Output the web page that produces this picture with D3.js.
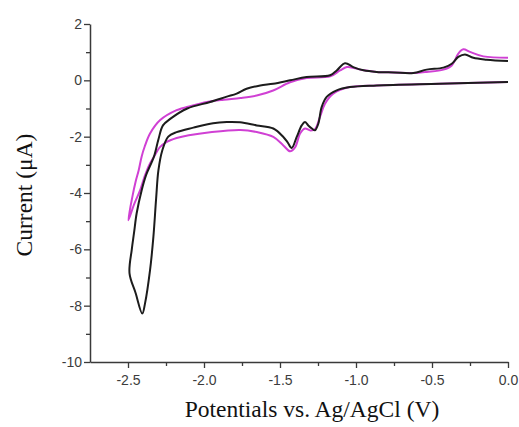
<!DOCTYPE html>
<html>
<head>
<meta charset="utf-8">
<script src="https://cdn.jsdelivr.net/npm/d3@7"></script>
<style>
  html, body { margin: 0; padding: 0; background: #fff; }
  svg { display: block; }
</style>
</head>
<body>
<svg id="chart" width="519" height="427"></svg>
<script>
// ---- data (potential V, current µA) ----
const blackForward = [
  [0.0,-0.06],[-0.45,-0.12],[-0.864,-0.18],[-1.04,-0.24],[-1.127,-0.355],[-1.193,-0.59],
  [-1.226,-0.95],[-1.248,-1.54],[-1.27,-1.775],[-1.29,-1.71],[-1.314,-1.6],[-1.336,-1.48],
  [-1.357,-1.6],[-1.39,-2.01],[-1.423,-2.40],[-1.45,-2.2],[-1.478,-2.01],[-1.544,-1.71],
  [-1.653,-1.6],[-1.763,-1.49],[-1.85,-1.48],[-1.94,-1.52],[-2.07,-1.68],[-2.18,-1.84],
  [-2.235,-2.0],[-2.275,-2.5],[-2.30,-3.2],[-2.315,-4.2],[-2.333,-5.56],[-2.355,-6.74],
  [-2.388,-7.92],[-2.406,-8.28],[-2.45,-7.55],[-2.49,-6.85]
];
const blackReverse = [
  [-2.475,-6.0],[-2.46,-5.4],[-2.443,-4.72],[-2.41,-3.9],[-2.38,-3.35],[-2.33,-2.72],[-2.30,-2.1],
  [-2.27,-1.6],[-2.22,-1.36],[-2.11,-1.0],[-1.96,-0.77],[-1.85,-0.58],[-1.785,-0.47],
  [-1.72,-0.30],[-1.63,-0.18],[-1.545,-0.12],[-1.434,0.0],[-1.325,0.12],[-1.17,0.18],
  [-1.127,0.35],[-1.072,0.61],[-1.018,0.47],[-0.95,0.355],[-0.864,0.30],[-0.75,0.28],
  [-0.623,0.26],[-0.535,0.38],[-0.425,0.45],[-0.37,0.59],[-0.327,0.83],[-0.283,0.92],
  [-0.228,0.80],[-0.14,0.735],[0.0,0.685]
];
const magentaForward = [
  [0.0,-0.06],[-0.45,-0.12],[-0.864,-0.18],[-1.04,-0.24],[-1.15,-0.47],[-1.204,-0.83],
  [-1.237,-1.30],[-1.27,-1.74],[-1.30,-1.78],[-1.336,-1.71],[-1.368,-1.89],[-1.40,-2.37],
  [-1.434,-2.52],[-1.478,-2.31],[-1.544,-2.01],[-1.653,-1.835],[-1.76,-1.76],[-1.96,-1.84],
  [-2.1,-1.95],[-2.18,-2.05],[-2.25,-2.2],[-2.29,-2.37],[-2.33,-2.72],[-2.36,-3.0],
  [-2.39,-3.4],[-2.42,-3.9],[-2.46,-4.4],[-2.498,-4.97]
];
const magentaReverse = [
  [-2.47,-4.1],[-2.45,-3.6],[-2.43,-3.2],[-2.41,-2.7],[-2.39,-2.35],[-2.355,-1.89],
  [-2.29,-1.42],[-2.18,-1.06],[-2.08,-0.90],[-1.98,-0.77],[-1.87,-0.69],[-1.76,-0.63],
  [-1.653,-0.54],[-1.545,-0.36],[-1.434,-0.07],[-1.325,0.08],[-1.17,0.14],[-1.105,0.35],
  [-1.06,0.47],[-1.02,0.45],[-0.95,0.355],[-0.864,0.30],[-0.75,0.28],[-0.623,0.26],
  [-0.535,0.30],[-0.425,0.38],[-0.37,0.53],[-0.327,0.95],[-0.294,1.10],[-0.25,1.01],
  [-0.162,0.85],[0.0,0.80]
];
const xTickValues = [-2.5,-2.0,-1.5,-1.0,-0.5,0.0];
const xTickLabels = ["-2.5","-2.0","-1.5","-1.0","-0.5","0.0"];
const xMinorTicks = [-2.25,-1.75,-1.25,-0.75,-0.25];
const yTickValues = [2,0,-2,-4,-6,-8,-10];
const yTickLabels = ["2","0","-2","-4","-6","-8","-10"];
const yMinorTicks = [1,-1,-3,-5,-7,-9];
const xTitle = "Potentials vs. Ag/AgCl (V)";
const yTitle = "Current (\u03bcA)";

// ---- drawing ----
const svg = d3.select("#chart");
const x = d3.scaleLinear().domain([-2.75, 0]).range([90, 508]);
const y = d3.scaleLinear().domain([-10, 2]).range([362, 24]);

const line = d3.line().x(d => x(d[0])).y(d => y(d[1])).curve(d3.curveCatmullRom.alpha(0.5));

const axisColor = "#3a3a3a";
const tickFont = "'Liberation Sans', Arial, sans-serif";

// minor ticks
const xMinor = svg.append("g").attr("transform", "translate(0,362)")
  .call(d3.axisBottom(x).tickValues(xMinorTicks).tickSize(4).tickSizeOuter(0).tickFormat(""));
const yMinor = svg.append("g").attr("transform", "translate(90,0)")
  .call(d3.axisLeft(y).tickValues(yMinorTicks).tickSize(4).tickSizeOuter(0).tickFormat(""));
[xMinor, yMinor].forEach(g => { g.select(".domain").remove(); g.selectAll("line").attr("stroke", axisColor).attr("stroke-width", 1.3); });

const xAxis = svg.append("g").attr("transform", "translate(0,362)")
  .call(d3.axisBottom(x).tickValues(xTickValues).tickSize(6).tickSizeOuter(0).tickPadding(7)
    .tickFormat((d, i) => xTickLabels[i]));
const yAxis = svg.append("g").attr("transform", "translate(90,0)")
  .call(d3.axisLeft(y).tickValues(yTickValues).tickSize(6).tickSizeOuter(0).tickPadding(2)
    .tickFormat((d, i) => yTickLabels[i]));
[xAxis, yAxis].forEach(g => {
  g.select(".domain").attr("stroke", axisColor).attr("stroke-width", 1.5);
  g.selectAll(".tick line").attr("stroke", axisColor).attr("stroke-width", 1.3);
  g.selectAll("text").attr("fill", "#3c3c3c").style("font-family", tickFont).style("font-size", "14px");
});

// curves
svg.append("path").datum(magentaForward.concat(magentaReverse))
  .attr("d", line).attr("fill", "none").attr("stroke", "#d040d4").attr("stroke-width", 2)
  .attr("stroke-linejoin", "round");
svg.append("path").datum(blackForward.concat(blackReverse))
  .attr("d", line).attr("fill", "none").attr("stroke", "#1c1c1c").attr("stroke-width", 2)
  .attr("stroke-linejoin", "round");

// titles
svg.append("text").attr("x", 312).attr("y", 417).attr("text-anchor", "middle")
  .style("font-family", "'Liberation Serif', 'Times New Roman', serif").style("font-size", "23.5px")
  .attr("fill", "#111").text(xTitle);
svg.append("text").attr("transform", "translate(32,195) rotate(-90)").attr("text-anchor", "middle")
  .style("font-family", "'Liberation Serif', 'Times New Roman', serif").style("font-size", "23.5px")
  .attr("fill", "#111").text(yTitle);
</script>
</body>
</html>
